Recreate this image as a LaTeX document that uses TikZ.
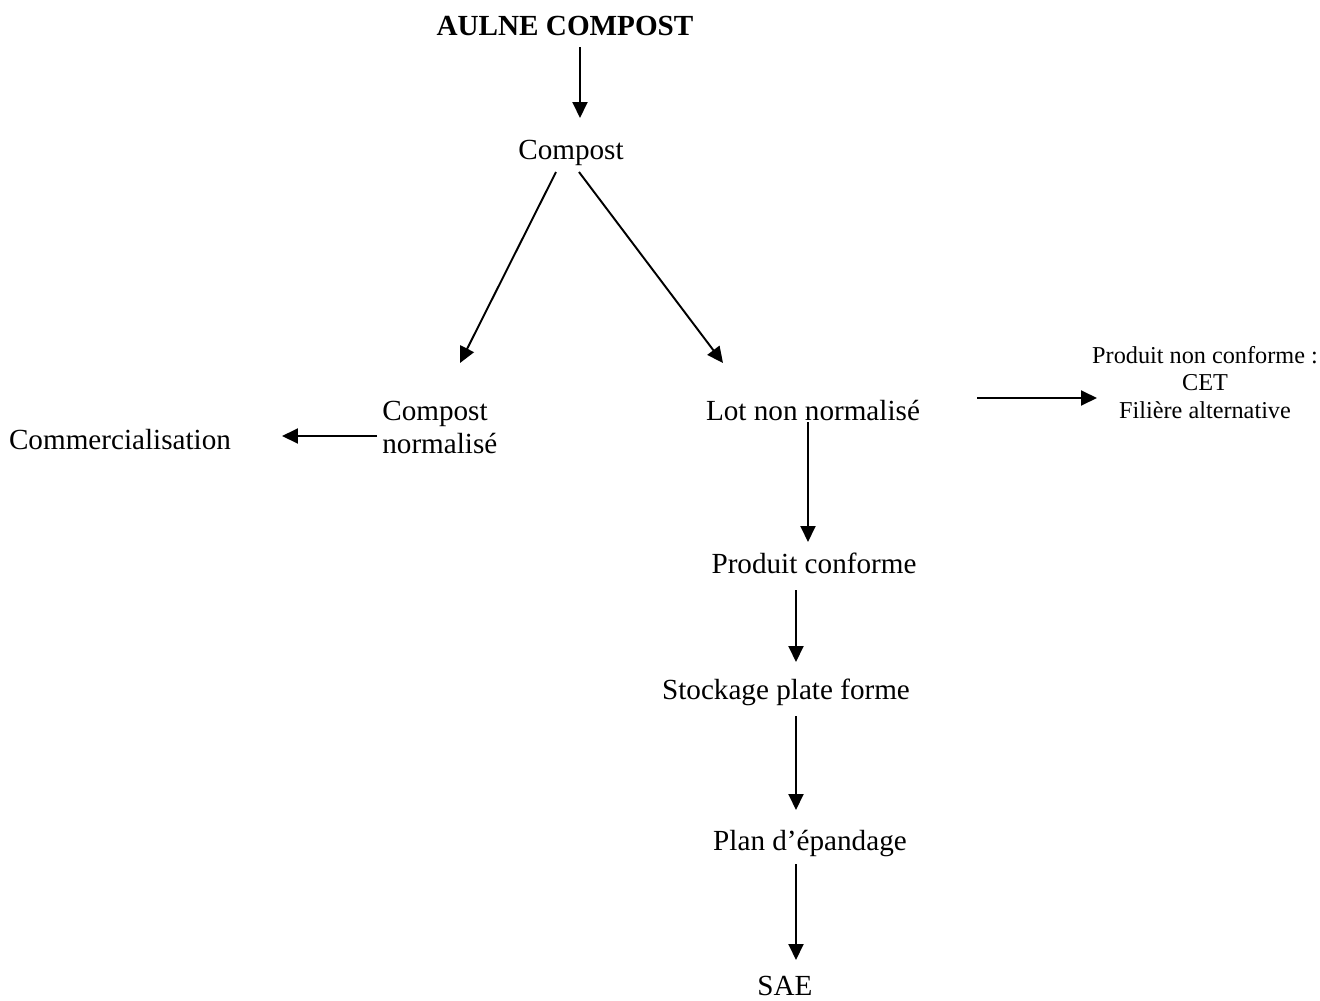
\documentclass[tikz,border=0pt]{standalone}
\usepackage{fontspec}
\setmainfont{Liberation Serif}
\usepackage{tikz}
\usetikzlibrary{arrows.meta, positioning}
\tikzset{
  etape/.style={inner sep=0pt, anchor=base, font=\fontsize{16.6}{18.7}\selectfont},
  titre/.style={inner sep=0pt, anchor=base, font=\fontsize{16.6}{18.7}\selectfont\bfseries},
  petit/.style={inner sep=0pt, anchor=base, align=center, font=\fontsize{13.8}{15.6}\selectfont},
  fleche/.style={line width=1.1pt, -{Triangle[length=0.32cm, width=0.3cm]}}
}

\begin{document}
\begin{tikzpicture}[x=0.02cm, y=-0.02cm]
    \useasboundingbox (0,0) rectangle (1320,1001);

    \node (aulne) [titre] at (565,35) {AULNE COMPOST};
    \node (compost) [etape] at (571,159) {Compost};
    \node (norm) [etape, align=left, anchor=base west] at (382,453) {Compost\\normalisé};
    \node (commerce) [etape] at (120,449) {Commercialisation};
    \node (lot) [etape] at (813,420) {Lot non normalisé};
    \node (nonconf) [petit] at (1205,418) {Produit non conforme :\\CET\\Filière alternative};
    \node (conf) [etape] at (814,573) {Produit conforme};
    \node (stock) [etape] at (786,699) {Stockage plate forme};
    \node (plan) [etape] at (810,850) {Plan d’épandage};
    \node (sae) [etape] at (785,995) {SAE};

    % Flèches
    \draw [fleche] ([shift={(15,12)}]aulne.base) -- ([shift={(9,-41)}]compost.base);
    \draw [fleche] ([shift={(-15,13)}]compost.base) -- ([shift={(78,-90)}]norm.base west);
    \draw [fleche] ([shift={(8,13)}]compost.base) -- ([shift={(-90,-57)}]lot.base);
    \draw [fleche] ([shift={(-5,-17)}]norm.base west) -- ([shift={(162,-13)}]commerce.base);
    \draw [fleche] ([shift={(164,-22)}]lot.base) -- ([shift={(-108,-20)}]nonconf.base);
    \draw [fleche] ([shift={(-5,2)}]lot.base) -- ([shift={(-6,-31)}]conf.base);
    \draw [fleche] ([shift={(-18,17)}]conf.base) -- ([shift={(10,-37)}]stock.base);
    \draw [fleche] ([shift={(10,17)}]stock.base) -- ([shift={(-14,-40)}]plan.base);
    \draw [fleche] ([shift={(-14,14)}]plan.base) -- ([shift={(11,-35)}]sae.base);

\end{tikzpicture}
\end{document}
